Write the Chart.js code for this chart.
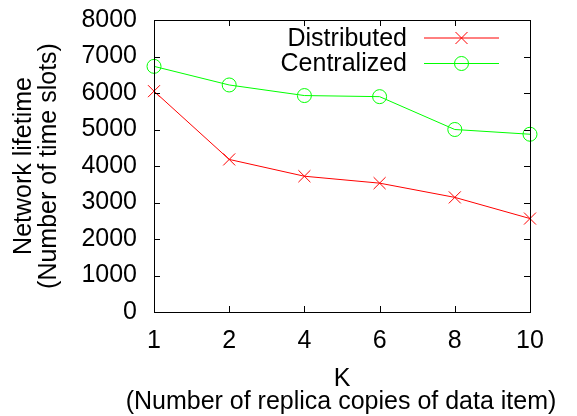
<!DOCTYPE html>
<html>
<head>
<meta charset="utf-8">
<script src="https://cdn.jsdelivr.net/npm/chart.js@4.4.0/dist/chart.umd.min.js"></script>
<style>
  html, body { margin: 0; padding: 0; background: #fff; }
  #wrap { width: 577px; height: 416px; }
</style>
</head>
<body>
<div id="wrap"><canvas id="lifetime-chart"></canvas></div>
<script>
// K values (replica copies) and network lifetime per scheme
const kValues = ['1', '2', '4', '6', '8', '10'];
const distributed = [6050, 4180, 3720, 3530, 3140, 2560];
const centralized = [6730, 6220, 5930, 5900, 5000, 4870];
const yTicks = [0, 1000, 2000, 3000, 4000, 5000, 6000, 7000, 8000];
const xTitle = ['K', '(Number of replica copies of data item)'];

const FONT = 'Liberation Sans, Arial, Helvetica, sans-serif';

// gnuplot-like frame with inward ticks on all four sides
const framePlugin = {
  id: 'frame',
  afterDatasetsDraw(chart) {
    const { ctx, chartArea: a, scales } = chart;
    const len = 6;
    ctx.save();
    ctx.strokeStyle = '#000';
    ctx.lineWidth = 1;
    ctx.beginPath();
    scales.y.ticks.forEach((t, i) => {
      const y = Math.round(scales.y.getPixelForTick(i)) + 0.5;
      ctx.moveTo(a.left, y); ctx.lineTo(a.left + len, y);
      ctx.moveTo(a.right, y); ctx.lineTo(a.right - len, y);
    });
    scales.x.ticks.forEach((t, i) => {
      const x = Math.round(scales.x.getPixelForTick(i)) + 0.5;
      ctx.moveTo(x, a.bottom); ctx.lineTo(x, a.bottom - len);
      ctx.moveTo(x, a.top); ctx.lineTo(x, a.top + len);
    });
    ctx.stroke();
    ctx.strokeRect(Math.round(a.left) + 0.5, Math.round(a.top) + 0.5,
      Math.round(a.right - a.left), Math.round(a.bottom - a.top));
    ctx.restore();
  }
};

// x axis title: the scale title would squeeze it to the plot width
const xTitlePlugin = {
  id: 'xTitle',
  afterDraw(chart) {
    const { ctx, chartArea: a } = chart;
    ctx.save();
    ctx.font = '25px ' + FONT;
    ctx.fillStyle = '#000';
    ctx.textAlign = 'center';
    ctx.textBaseline = 'alphabetic';
    const cx = (a.left + a.right) / 2;
    ctx.fillText(xTitle[0], cx, a.bottom + 74);
    ctx.fillText(xTitle[1], cx - 1, a.bottom + 97);
    ctx.restore();
  }
};

// key in the top right corner: text, then line sample with its marker
const keyPlugin = {
  id: 'key',
  afterDatasetsDraw(chart) {
    const { ctx, chartArea: a } = chart;
    ctx.save();
    ctx.font = '25px ' + FONT;
    ctx.textAlign = 'right';
    ctx.textBaseline = 'middle';
    chart.data.datasets.forEach((ds, i) => {
      const y = a.top + 18 + i * 25.5;
      const x1 = a.right - 106, x2 = a.right - 31, xm = (x1 + x2) / 2;
      ctx.fillStyle = '#000';
      ctx.fillText(ds.label, a.right - 123, y + 1);
      ctx.strokeStyle = ds.borderColor;
      ctx.fillStyle = 'rgba(0,0,0,0)';
      ctx.lineWidth = 1;
      ctx.beginPath();
      ctx.moveTo(x1, y); ctx.lineTo(x2, y);
      ctx.stroke();
      Chart.helpers.drawPoint(ctx, {
        pointStyle: ds.pointStyle, radius: ds.pointRadius, borderWidth: 1
      }, xm, y);
    });
    ctx.restore();
  }
};

const config = {
  type: 'line',
  data: {
    labels: kValues,
    datasets: [
      {
        label: 'Distributed',
        data: distributed,
        borderColor: '#ff0000',
        backgroundColor: 'rgba(0,0,0,0)',
        borderWidth: 1,
        pointStyle: 'crossRot',
        pointRadius: 8.5,
        pointBorderWidth: 1,
        clip: false,
        tension: 0
      },
      {
        label: 'Centralized',
        data: centralized,
        borderColor: '#00ff00',
        backgroundColor: 'rgba(0,0,0,0)',
        borderWidth: 1,
        pointStyle: 'circle',
        pointRadius: 7,
        pointBorderWidth: 1,
        clip: false,
        tension: 0
      }
    ]
  },
  options: {
    responsive: true,
    maintainAspectRatio: false,
    animation: false,
    layout: { padding: { top: 20, right: 47, bottom: 0, left: 0 } },
    plugins: {
      legend: { display: false },
      tooltip: { enabled: false }
    },
    scales: {
      x: {
        type: 'category',
        offset: false,
        grid: { display: false, drawTicks: false },
        border: { display: false },
        ticks: { color: '#000', font: { family: FONT, size: 25 }, padding: 14, maxRotation: 0 },
        afterFit(scale) {
          scale.height = 104;
          scale.paddingLeft = scale.paddingRight = 0;
        }
      },
      y: {
        min: 0,
        max: 8000,
        afterBuildTicks(scale) { scale.ticks = yTicks.map(v => ({ value: v })); },
        grid: { display: false, drawTicks: false },
        border: { display: false },
        ticks: {
          color: '#000', font: { family: FONT, size: 25 }, padding: 17,
          callback: v => String(v)
        },
        title: {
          display: true,
          text: ['Network lifetime', '(Number of time slots)'],
          color: '#000',
          font: { family: FONT, size: 25, lineHeight: 1.0 },
          padding: { top: 12, bottom: 0 }
        },
        afterFit(scale) {
          scale.width = 154;
          scale.paddingTop = scale.paddingBottom = 0;
        }
      }
    }
  },
  plugins: [framePlugin, xTitlePlugin, keyPlugin]
};

new Chart(document.getElementById('lifetime-chart'), config);
</script>
</body>
</html>
